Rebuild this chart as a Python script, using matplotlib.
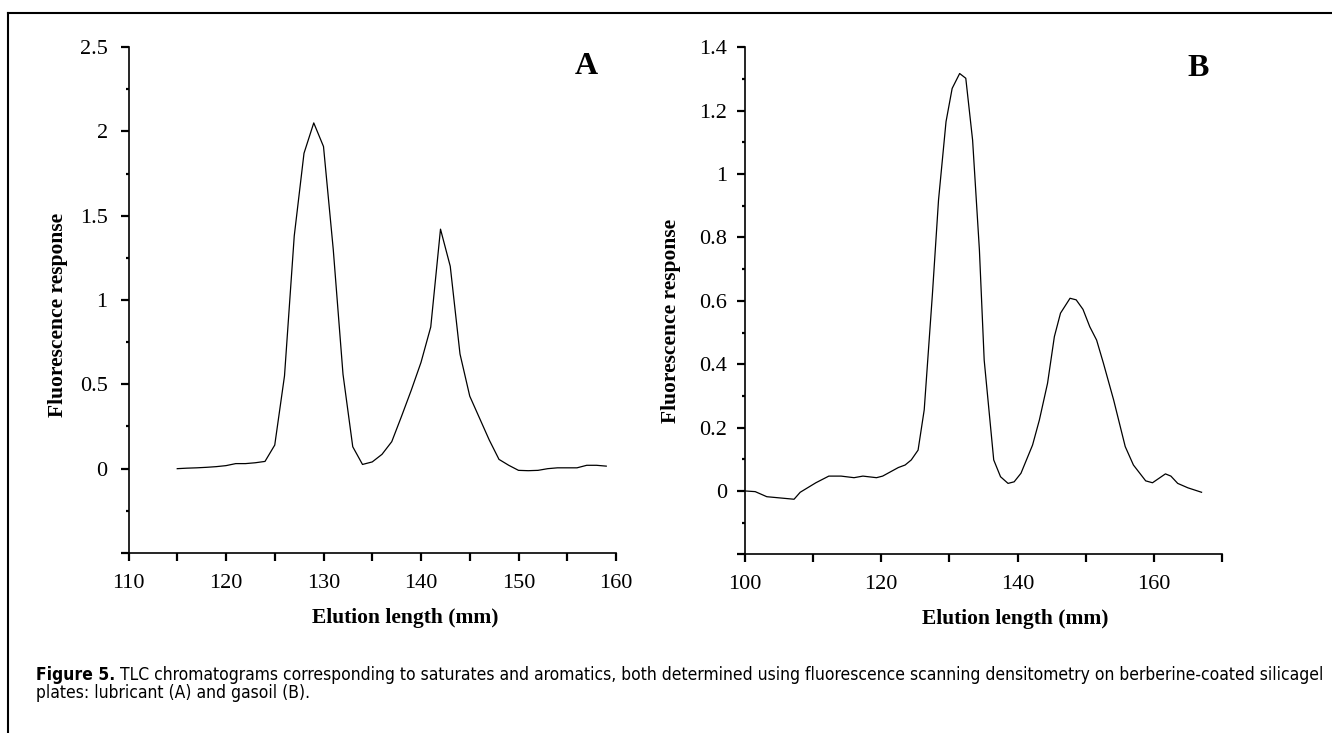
import matplotlib
matplotlib.use('Agg')
import matplotlib.pyplot as plt
from matplotlib.ticker import MultipleLocator, FuncFormatter
from matplotlib import font_manager
from matplotlib.font_manager import FontProperties
from matplotlib.lines import Line2D

# Panel A: lubricant
elution_a = [115, 116, 117, 118, 119, 120, 121, 122, 123, 124, 125, 126, 127, 128, 129,
             130, 131, 132, 133, 134, 135, 136, 137, 138, 139, 140, 141, 142, 143, 144,
             145, 146, 147, 148, 149, 150, 151, 152, 153, 154, 155, 156, 157, 158, 159]
response_a = [0.0, 0.003, 0.005, 0.008, 0.012, 0.018, 0.03, 0.03, 0.035, 0.043, 0.14, 0.55,
              1.38, 1.87, 2.05, 1.91, 1.3, 0.56, 0.13, 0.025, 0.04, 0.085, 0.16, 0.31, 0.465,
              0.63, 0.84, 1.42, 1.2, 0.68, 0.43, 0.3, 0.17, 0.055, 0.02, -0.01, -0.012, -0.01,
              0.0, 0.005, 0.005, 0.005, 0.02, 0.02, 0.015]

# Panel B: gasoil
elution_b = [100.1, 101.5, 103.2, 107.2, 108.1, 110.4, 112.3, 114.1, 116.0, 117.3, 119.3,
             120.2, 122.5, 123.5, 124.4, 125.4, 126.3, 127.5, 128.4, 129.5, 130.4, 131.5,
             132.4, 133.4, 134.4, 135.1, 136.5, 137.5, 138.6, 139.5, 140.5, 142.2, 143.2,
             144.4, 145.4, 146.3, 147.7, 148.6, 149.6, 150.6, 151.6, 152.6, 154.1, 155.8,
             157.0, 158.8, 159.8, 161.7, 162.5, 163.5, 165.0, 167.0]
response_b = [0.0, -0.002, -0.018, -0.026, -0.004, 0.026, 0.047, 0.047, 0.042, 0.047, 0.042,
              0.047, 0.074, 0.082, 0.098, 0.129, 0.256, 0.62, 0.918, 1.165, 1.27, 1.317,
              1.302, 1.107, 0.76, 0.413, 0.098, 0.045, 0.024, 0.029, 0.056, 0.145, 0.224,
              0.34, 0.487, 0.561, 0.608, 0.603, 0.573, 0.518, 0.476, 0.403, 0.287, 0.14,
              0.082, 0.032, 0.026, 0.054, 0.047, 0.024, 0.01, -0.004]

caption_bold = 'Figure 5.'
caption_line1 = ('TLC chromatograms corresponding to saturates and aromatics, both determined '
                 'using fluorescence scanning densitometry on berberine-coated silicagel')
caption_line2 = 'plates: lubricant (A) and gasoil (B).'

serif = ['Liberation Serif', 'DejaVu Serif']

# look for a condensed sans for the caption, else fall back to Roboto
cond = {}
for f in font_manager.fontManager.ttflist:
    if f.name in ('Noto Sans', 'DejaVu Sans', 'Open Sans') and f.style == 'normal' \
            and f.stretch in ('condensed', 'semi-condensed', 550):
        key = 'bold' if f.weight in (700, 'bold') else ('regular' if f.weight in (400, 'normal', 'regular') else None)
        if key and (f.name, key) not in cond:
            cond[(f.name, key)] = f.fname
cap_reg, cap_bold = FontProperties(family='Roboto'), FontProperties(family='Roboto', weight='bold')
for nm in ('Noto Sans', 'Open Sans', 'DejaVu Sans'):
    if (nm, 'regular') in cond and (nm, 'bold') in cond:
        cap_reg = FontProperties(fname=cond[(nm, 'regular')])
        cap_bold = FontProperties(fname=cond[(nm, 'bold')])
        break

W, H = 1332, 733
fig = plt.figure(figsize=(W / 100, H / 100), dpi=100)
fig.patch.set_facecolor('white')


def hide_neg(v, pos):
    return '' if v < -1e-9 else '%g' % v


def style_axes(ax, ypad):
    for s in ['top', 'right']:
        ax.spines[s].set_visible(False)
    for s in ['left', 'bottom']:
        ax.spines[s].set_linewidth(1.2)
    ax.tick_params(axis='both', which='both', direction='out', width=1.6, colors='black')
    ax.tick_params(axis='x', which='both', length=6, pad=9, labelsize=16)
    ax.tick_params(axis='y', which='major', length=6, pad=ypad, labelsize=16)
    ax.tick_params(axis='y', which='minor', length=2.5)
    for lab in ax.get_xticklabels() + ax.get_yticklabels():
        lab.set_fontfamily(serif)
    ax.yaxis.set_major_formatter(FuncFormatter(hide_neg))


# ---- panel A
axA = fig.add_axes([128.5 / W, 1 - 553 / H, 487.5 / W, 506 / H])
axA.plot(elution_a, response_a, color='black', lw=0.9)
axA.set_xlim(110, 160)
axA.set_ylim(-0.5, 2.5)
axA.xaxis.set_major_locator(MultipleLocator(10))
axA.xaxis.set_minor_locator(MultipleLocator(5))
axA.yaxis.set_major_locator(MultipleLocator(0.5))
axA.yaxis.set_minor_locator(MultipleLocator(0.25))
style_axes(axA, 9)
axA.set_xlabel('Elution length (mm)', fontsize=15.5, fontweight='bold', family=serif)
axA.set_ylabel('Fluorescence response', fontsize=15.5, fontweight='bold', family=serif)
axA.xaxis.set_label_coords(0.567, -0.109)
axA.yaxis.set_label_coords(-0.124, 0.47)
axA.text(586.5 / W, 1 - 66 / H, 'A', transform=fig.transFigure, ha='center', va='center',
         fontsize=23, fontweight='bold', family=serif)

# ---- panel B
axB = fig.add_axes([745 / W, 1 - 554.4 / H, 477 / W, 507.2 / H])
axB.plot(elution_b, response_b, color='black', lw=0.9)
axB.set_xlim(100, 170)
axB.set_ylim(-0.2, 1.4)
axB.xaxis.set_major_locator(MultipleLocator(20))
axB.xaxis.set_minor_locator(MultipleLocator(10))
axB.yaxis.set_major_locator(MultipleLocator(0.2))
axB.yaxis.set_minor_locator(MultipleLocator(0.1))
style_axes(axB, 7)
axB.set_xticks([100, 120, 140, 160])
axB.set_xlabel('Elution length (mm)', fontsize=15.5, fontweight='bold', family=serif)
axB.set_ylabel('Fluorescence response', fontsize=15.5, fontweight='bold', family=serif)
axB.xaxis.set_label_coords(0.566, -0.107)
axB.yaxis.set_label_coords(-0.134, 0.46)
axB.text(1198.5 / W, 1 - 68 / H, 'B', transform=fig.transFigure, ha='center', va='center',
         fontsize=23, fontweight='bold', family=serif)

# ---- frame lines
fig.add_artist(Line2D([8 / W, 8 / W], [0, 1 - 13 / H], color='black', lw=1.5,
                      transform=fig.transFigure))
fig.add_artist(Line2D([8 / W, 1], [1 - 13 / H, 1 - 13 / H], color='black', lw=1.5,
                      transform=fig.transFigure))

# ---- caption
cap_size = 12.5
x0 = 36 / W
y1 = 1 - 680 / H
y2 = 1 - 698.5 / H
cap_bold.set_size(cap_size)
cap_reg.set_size(cap_size)
t_bold = fig.text(x0, y1, caption_bold, fontproperties=cap_bold, va='baseline')
t_line1 = fig.text(x0, y1, caption_line1, fontproperties=cap_reg, va='baseline')
t_line2 = fig.text(x0, y2, caption_line2, fontproperties=cap_reg, va='baseline')
fig.canvas.draw()
r = fig.canvas.get_renderer()
bb = t_bold.get_window_extent(r)
space = 5
# fit line 1 to end near x=1322
w1 = t_line1.get_window_extent(r).width
new_size = min(cap_size * (1322 - (bb.x1 + space)) / w1, 13.5)
for t in (t_bold, t_line1, t_line2):
    t.set_fontsize(new_size)
fig.canvas.draw()
bb = t_bold.get_window_extent(r)
t_line1.set_x((bb.x1 + space) / W)

fig.savefig('out.png', dpi=100, facecolor='white')
